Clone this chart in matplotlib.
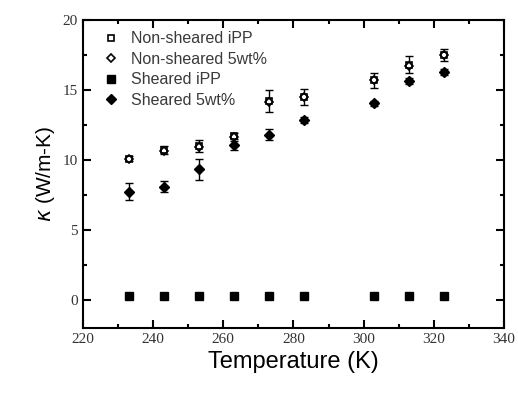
import matplotlib.pyplot as plt
import numpy as np

# temperatures (K)
temp = [233, 243, 253, 263, 273, 283, 303, 313, 323]

# thermal conductivity values
nonsheared_ipp = [10.1, 10.7, 11.0, 11.7, 14.2, 14.5, 15.7, 16.8, 17.5]
nonsheared_ipp_err = [0.2, 0.3, 0.45, 0.2, 0.8, 0.55, 0.55, 0.6, 0.45]
nonsheared_5wt = [10.05, 10.65, 10.95, 11.65, 14.15, 14.5, 15.7, 16.75, 17.5]
sheared_ipp = [0.3, 0.3, 0.3, 0.3, 0.3, 0.3, 0.3, 0.3, 0.3]
sheared_5wt = [7.75, 8.1, 9.35, 11.05, 11.8, 12.85, 14.05, 15.65, 16.3]
sheared_5wt_err = [0.6, 0.4, 0.75, 0.3, 0.4, 0.2, 0.2, 0.2, 0.2]

fig = plt.figure(figsize=(5.18, 3.94), dpi=100)
ax = fig.add_axes([0.160, 0.1675, 0.813, 0.7815])

# error bars first, markers on top
ax.errorbar(temp, nonsheared_ipp, yerr=nonsheared_ipp_err, fmt='none',
            ecolor='black', elinewidth=1, capsize=3)
ax.errorbar(temp, sheared_5wt, yerr=sheared_5wt_err, fmt='none',
            ecolor='black', elinewidth=1, capsize=3)

ax.plot(temp, nonsheared_ipp, 's', ms=5, mfc='white', mec='black', mew=1.2,
        label='Non-sheared iPP')
ax.plot(temp, nonsheared_5wt, 'D', ms=4.5, mfc='none', mec='black', mew=1.2,
        label='Non-sheared 5wt%')
ax.plot(temp, sheared_ipp, 's', ms=6, color='black', label='Sheared iPP')
ax.plot(temp, sheared_5wt, 'D', ms=5.5, color='black', label='Sheared 5wt%')

ax.set_xlim(220, 340)
ax.set_ylim(-2, 20)
ax.set_xticks(np.arange(220, 341, 20))
ax.set_xticks(np.arange(230, 340, 20), minor=True)
ax.set_yticks(np.arange(0, 21, 5))
ax.set_yticks(np.arange(2.5, 20, 5), minor=True)
ax.tick_params(which='both', direction='in', top=True, right=True, width=1.5)
ax.tick_params(which='major', length=6)
ax.tick_params(which='minor', length=3)
for lab in ax.get_xticklabels() + ax.get_yticklabels():
    lab.set_fontfamily('Liberation Serif')
    lab.set_fontsize(11)
    lab.set_color('#333333')
for sp in ax.spines.values():
    sp.set_linewidth(1.5)

ax.set_xlabel('Temperature (K)', fontfamily='Liberation Sans', fontsize=17)
ax.set_ylabel(r'$\kappa$ (W/m-K)', fontfamily='Liberation Sans', fontsize=15)

leg = ax.legend(loc='upper left', bbox_to_anchor=(0.013, 1.0), frameon=False,
                prop={'family': 'Liberation Sans', 'size': 11.5},
                handletextpad=0.6, labelspacing=0.35, borderaxespad=0.2,
                borderpad=0.5, handlelength=1.4)
for t in leg.get_texts():
    t.set_color('#3a3a3a')

fig.savefig('out.png', dpi=100)
